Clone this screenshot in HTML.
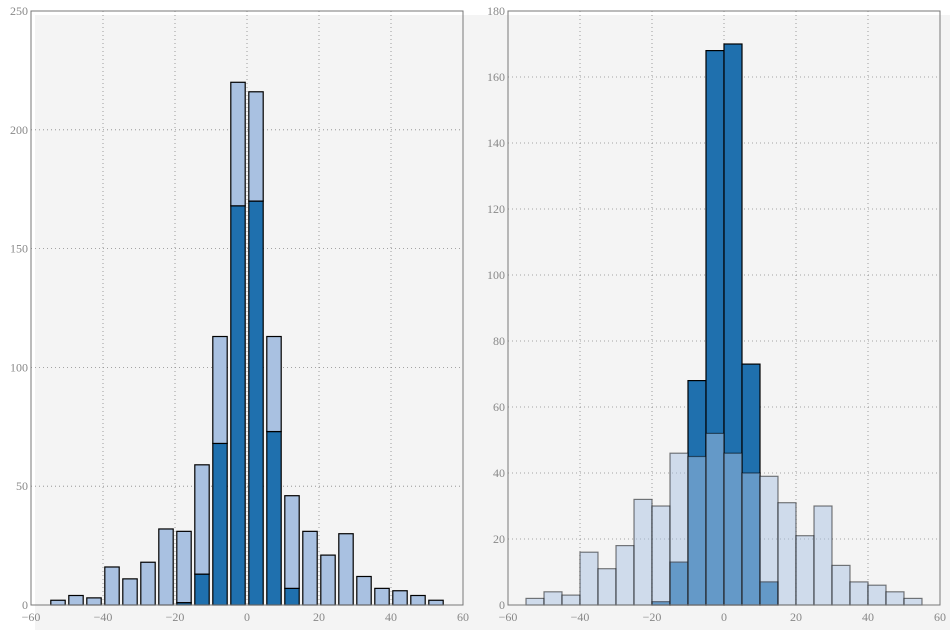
<!DOCTYPE html>
<html><head><meta charset="utf-8"><style>
html,body{margin:0;padding:0;background:#fff;}
svg{display:block;font-family:"Liberation Serif",serif;}
</style></head><body>
<svg id="fig" width="950" height="630">
<rect x="35" y="15" width="915" height="615" fill="#f4f4f4"/>
<g id="left"></g>
<g id="right"></g>
</svg>
<script>
const binCenters = [-52.5,-47.5,-42.5,-37.5,-32.5,-27.5,-22.5,-17.5,-12.5,-7.5,-2.5,2.5,7.5,12.5,17.5,22.5,27.5,32.5,37.5,42.5,47.5,52.5];
const seriesNarrow = [0,0,0,0,0,0,0,1,13,68,168,170,73,7,0,0,0,0,0,0,0,0];
const seriesWide = [2,4,3,16,11,18,32,30,46,45,52,46,40,39,31,21,30,12,7,6,4,2];
const xTicks = [-60,-40,-20,0,20,40,60];
const leftYTicks = [0,50,100,150,200,250];
const rightYTicks = [0,20,40,60,80,100,120,140,160,180];
const NS="http://www.w3.org/2000/svg";
function mk(parent,tag,attrs){const e=document.createElementNS(NS,tag);for(const k in attrs)e.setAttribute(k,attrs[k]);parent.appendChild(e);return e;}
function axes(g,x0,x1,yTop,yBot,ymax,yTicks){
  const sx=v=>x0+(v+60)/120*(x1-x0);
  const sy=v=>yBot-v/ymax*(yBot-yTop);
  const grid=mk(g,'g',{});
  
  
  xTicks.forEach(t=>{mk(grid,'line',{x1:sx(t),x2:sx(t),y1:yTop,y2:yBot,stroke:'#888','stroke-width':0.8,'stroke-dasharray':'1,3'});});
  yTicks.forEach(t=>{mk(grid,'line',{x1:x0,x2:x1,y1:sy(t),y2:sy(t),stroke:'#888','stroke-width':0.8,'stroke-dasharray':'1,3'});});
  return {sx,sy};
}
function frame(g,x0,x1,yTop,yBot,sx,sy,yTicks,name){
  const f=mk(g,'rect',{x:x0,y:yTop,width:x1-x0,height:yBot-yTop,fill:'none',stroke:'#777','stroke-width':1});
  
  
  xTicks.forEach(t=>{
    const tx=mk(g,'text',{x:sx(t),y:yBot+16,'text-anchor':'middle','font-size':12,fill:'#888'});
    tx.textContent=(t<0?'\u2212'+(-t):t);
    
    
  });
  yTicks.forEach(t=>{
    const ty=mk(g,'text',{x:x0-3,y:sy(t)+4,'text-anchor':'end','font-size':12,fill:'#888'});
    ty.textContent=t;
    
    
  });
}
// Left: stacked bars
(function(){
  const g=document.getElementById('left');
  const x0=31,x1=463,yTop=11,yBot=605;
  const {sx,sy}=axes(g,x0,x1,yTop,yBot,250,leftYTicks);
  const w=4*(x1-x0)/120;
  binCenters.forEach((c,i)=>{
    const a=seriesNarrow[i],b=seriesWide[i];
    if(a>0){const r=mk(g,'rect',{x:sx(c)-w/2,y:sy(a),width:w,height:sy(0)-sy(a),fill:'#1f70ae',stroke:'#000','stroke-width':1.2});
      
      }
    const r2=mk(g,'rect',{x:sx(c)-w/2,y:sy(a+b),width:w,height:sy(a)-sy(a+b),fill:'#a9c1e1',stroke:'#000','stroke-width':1.2});
    
    
  });
  frame(g,x0,x1,yTop,yBot,sx,sy,leftYTicks,'left');
})();
// Right: overlaid histograms
(function(){
  const g=document.getElementById('right');
  const x0=508,x1=940,yTop=11,yBot=605;
  const {sx,sy}=axes(g,x0,x1,yTop,yBot,180,rightYTicks);
  const w=5*(x1-x0)/120;
  binCenters.forEach((c,i)=>{
    const a=seriesNarrow[i];
    if(a>0){const r=mk(g,'rect',{x:sx(c)-w/2,y:sy(a),width:w,height:sy(0)-sy(a),fill:'#1f70ae',stroke:'#000','stroke-width':1.2});
      
      }
  });
  binCenters.forEach((c,i)=>{
    const b=seriesWide[i];
    const r=mk(g,'rect',{x:sx(c)-w/2,y:sy(b),width:w,height:sy(0)-sy(b),fill:'#a9c1e1','fill-opacity':0.5,stroke:'#000','stroke-opacity':0.5,'stroke-width':1.2});
    
    
  });
  frame(g,x0,x1,yTop,yBot,sx,sy,rightYTicks,'right');
})();
</script>
</body></html>
